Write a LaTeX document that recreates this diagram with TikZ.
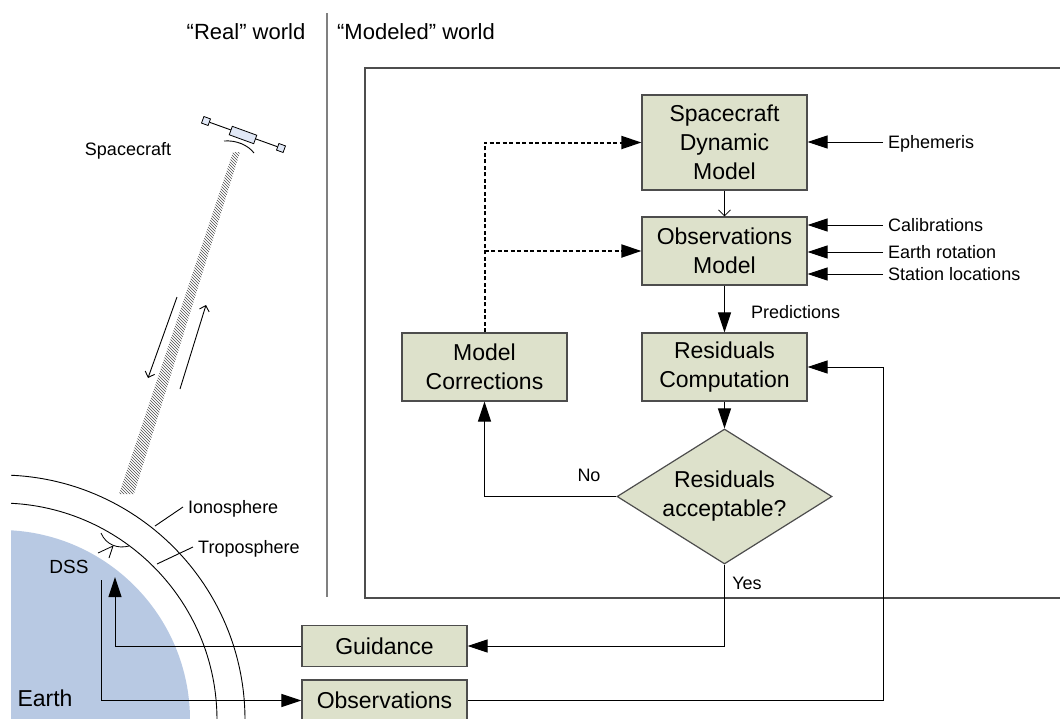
\documentclass[tikz,border=0pt]{standalone}
\usepackage{fontspec}
\setmainfont{Liberation Sans}
\usepackage{tikz}
\usetikzlibrary{arrows.meta,shapes.geometric,patterns}

\definecolor{boxfill}{HTML}{DDE1CB}
\definecolor{boxline}{HTML}{4D4D4D}
\definecolor{earthblue}{HTML}{B8C9E3}
\definecolor{craftblue}{HTML}{E1E8F6}

\begin{document}
\begin{tikzpicture}[x=1pt,y=-1pt,
  block/.style={draw=boxline,line width=1.2pt,fill=boxfill,minimum width=165pt,inner sep=0pt,align=center,font=\fontsize{23}{29}\selectfont},
  decision/.style={diamond,draw=boxline,line width=1.2pt,fill=boxfill,minimum width=215pt,minimum height=135pt,aspect=1.6,inner sep=0pt,align=center,font=\fontsize{23}{29}\selectfont},
  lbl/.style={inner xsep=5pt,inner ysep=0pt,text height=13pt,text depth=0pt,font=\fontsize{18}{22}\selectfont},
  arr/.style={line width=1pt,-{Triangle[length=20pt,width=13pt]}},
  feed/.style={arr,line width=2pt,dash pattern=on 4pt off 2.5pt},
  barb/.style={line width=0.9pt,-{Straight Barb[length=5pt,width=10pt]}},
  panel/.style={draw,line width=0.8pt,fill=craftblue,inner sep=0pt,rotate=-20}]
\useasboundingbox (0,0) rectangle (1060,718);

% real world: earth, atmosphere, link
\begin{scope}
\clip (11,0) rectangle (330,718);
\fill[earthblue] (0,720) circle[radius=190pt];
\draw[line width=0.9pt] (0,720) circle[radius=217pt] (0,720) circle[radius=245pt];
\end{scope}
\fill[pattern=north west lines,pattern color=black!70] (119,494) -- (134,494) -- (240,152) -- (233,152) -- cycle;
\draw[barb] (177,297) -- (148,378);
\draw[barb] (180,389) -- (206,305);

% spacecraft
\node[panel,minimum size=7pt] (panelL) at (206,121) {};
\node[panel,minimum size=7pt] (panelR) at (281,148) {};
\draw[line width=0.9pt] (panelL) -- (panelR);
\node[panel,minimum width=26pt,minimum height=9pt] (bus) at (243,135) {};
\draw[line width=0.9pt] (224,141) .. controls (236,140) and (248,145) .. (254,153);
\node[lbl,anchor=center] (craft) at (128,149) {Spacecraft};

% station
\draw[line width=0.8pt] (101,533) .. controls (106,545) and (118,549) .. (129,546);
\draw[line width=0.8pt] (98,553) -- (113,546) -- (109,558);
\node[font=\fontsize{19}{22}\selectfont] (dss) at (69,567) {DSS};
\node[font=\fontsize{23}{28}\selectfont] (earth) at (45,698) {Earth};
\node[lbl,anchor=west] (iono) at (183,507) {Ionosphere};
\node[lbl,anchor=west] (tropo) at (193,547) {Troposphere};
\draw[line width=0.9pt] (155,526) -- (iono.west);
\draw[line width=0.9pt] (157,564) -- (tropo.west);

% worlds
\draw[line width=1.5pt,gray] (327,13) -- (327,597);
\node[font=\fontsize{22}{26}\selectfont] (realw) at (246,32) {“Real” world};
\node[font=\fontsize{22}{26}\selectfont] (modw) at (416,32) {“Modeled” world};
\draw[line width=1.2pt,boxline] (1062,68) -- (365,68) -- (365,598) -- (1062,598);

% modeled world
\node[block,minimum height=95pt] (sdm) at (724.5,142.5) {Spacecraft\\Dynamic\\Model};
\node[block,minimum height=68pt] (obsm) at (724.5,251) {Observations\\Model};
\node[block,minimum height=68pt] (resid) at (724.5,367) {Residuals\\Computation};
\node[block,minimum height=68pt] (corr) at (484.5,367) {Model\\Corrections};
\node[decision] (accept) at (724.5,496.5) {Residuals\\acceptable?};
\node[block,minimum height=41pt] (guid) at (384.5,646) {Guidance};
\node[block,minimum height=41pt] (obs) at (384.5,700.5) {Observations};

\node[lbl,anchor=west] (eph) at (883,142) {Ephemeris};
\node[lbl,anchor=west] (cal) at (883,225) {Calibrations};
\node[lbl,anchor=west] (rot) at (883,252) {Earth rotation};
\node[lbl,anchor=west] (loc) at (883,274) {Station locations};
\node[lbl,anchor=west] (pred) at (746,312) {Predictions};
\node[lbl,anchor=center] (no) at (589,475) {No};
\node[lbl,anchor=center] (yes) at (747,583) {Yes};

\draw[arr] (eph.west) -- (sdm.east |- eph.west);
\draw[arr] (cal.west) -- (obsm.east |- cal.west);
\draw[arr] (rot.west) -- (obsm.east |- rot.west);
\draw[arr] (loc.west) -- (obsm.east |- loc.west);

\draw[line width=0.8pt,-{Straight Barb[length=6pt,width=12pt]}] (sdm) -- (obsm);
\draw[arr] (obsm) -- (resid);
\draw[arr] (resid) -- (accept);
\draw[arr] (accept.west) -| (corr.south);
\draw[arr] (accept.south) |- (guid.east);
\draw[feed] (corr.north) |- (sdm.west);
\draw[feed] (corr.north |- obsm.west) -- (obsm.west);

\coordinate (loopin) at (883,367);
\coordinate (dssup) at (115,577);
\coordinate (dssdown) at (101,580);
\draw[arr] (obs.east) -| (loopin) -- (resid.east);
\draw[arr] (guid.west) -| (dssup);
\draw[arr] (dssdown) |- (obs.west);
\end{tikzpicture}
\end{document}
